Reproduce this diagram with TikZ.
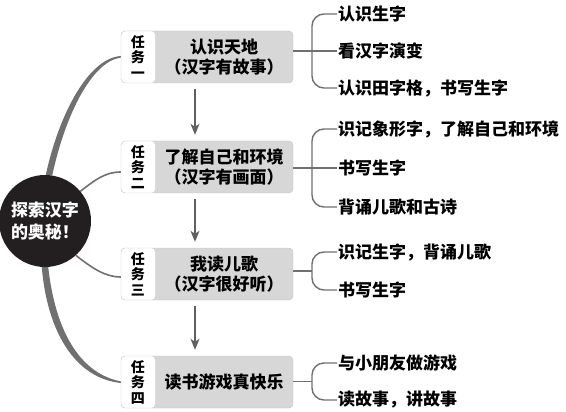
\documentclass[tikz,border=0pt]{standalone}
\usepackage{fontspec}
\setmainfont{Noto Sans CJK SC}
\usetikzlibrary{arrows.meta,backgrounds,calc}
\definecolor{boxgray}{HTML}{D7D7D7}
\definecolor{boxline}{HTML}{C6C6C6}
\definecolor{hubcol}{HTML}{231F20}
\definecolor{linkcol}{HTML}{707070}
\begin{document}
\begin{tikzpicture}[x=1pt,y=-1pt,
  >={Stealth[length=11pt,width=9pt,inset=3pt]},
  every node/.style={inner sep=1pt,font=\bfseries},
  hub/.style={circle,fill=hubcol,text=white,minimum size=92pt,align=center,
    font=\bfseries\fontsize{17}{22}\selectfont},
  taskbox/.style={rectangle,rounded corners=4pt,fill=boxgray,draw=boxline,
    minimum width=172pt,minimum height=52pt,
    path picture={\fill[white](path picture bounding box.north west)
      rectangle([xshift=34pt]path picture bounding box.south west);}},
  tasktag/.style={align=center,font=\bfseries\fontsize{14}{15.5}\selectfont},
  tasktext/.style={align=center,font=\bfseries\fontsize{17}{20}\selectfont},
  leaf/.style={anchor=west,font=\bfseries\fontsize{17}{20}\selectfont},
  flow/.style={->,draw=linkcol!85!black,line width=1.3pt,shorten <=6pt,shorten >=6pt},
  branch/.style={draw=linkcol,line width=1.4pt,rounded corners=12pt},
  link/.style={fill=linkcol},
  thinlink/.style={draw=linkcol,line width=1.6pt}]
  \useasboundingbox (0,0) rectangle (566,412);
  \node[hub] (hub) at (45,221) {探索汉字\\的奥秘！};
  % tasks
  \node[taskbox] (b1) at (207,57) {};
  \node[tasktag] (t1) at ([xshift=17pt]b1.west) {任\\务\\一};
  \node[tasktext] (m1) at ([xshift=17pt]b1.center) {认识天地\\（汉字有故事）};
  \node[taskbox] (b2) at (207,167) {};
  \node[tasktag] (t2) at ([xshift=17pt]b2.west) {任\\务\\二};
  \node[tasktext] (m2) at ([xshift=17pt]b2.center) {了解自己和环境\\（汉字有画面）};
  \node[taskbox] (b3) at (207,274) {};
  \node[tasktag] (t3) at ([xshift=17pt]b3.west) {任\\务\\三};
  \node[tasktext] (m3) at ([xshift=17pt]b3.center) {我读儿歌\\（汉字很好听）};
  \node[taskbox] (b4) at (207,382) {};
  \node[tasktag] (t4) at ([xshift=17pt]b4.west) {任\\务\\四};
  \node[tasktext] (m4) at ([xshift=17pt]b4.center) {读书游戏真快乐};
  \draw[flow] ([xshift=-12pt]b1.south) -- ([xshift=-12pt]b2.north);
  \draw[flow] ([xshift=-12pt]b2.south) -- ([xshift=-12pt]b3.north);
  \draw[flow] ([xshift=-12pt]b3.south) -- ([xshift=-12pt]b4.north);
  % leaves
  \node[leaf] (a1) at (337,14) {认识生字};
  \node[leaf] (a2) at (337,51) {看汉字演变};
  \node[leaf] (a3) at (337,88) {认识田字格，书写生字};
  \node[leaf] (d1) at (337,129) {识记象形字，了解自己和环境};
  \node[leaf] (d2) at (337,168) {书写生字};
  \node[leaf] (d3) at (337,207) {背诵儿歌和古诗};
  \node[leaf] (c1) at (337,252) {识记生字，背诵儿歌};
  \node[leaf] (c2) at (337,290) {书写生字};
  \node[leaf] (e1) at (337,363) {与小朋友做游戏};
  \node[leaf] (e2) at (337,400) {读故事，讲故事};
  \draw[branch] (a1.west) -| ([xshift=-25pt]a3.west) -- (a3.west);
  \draw[branch] (b1.east |- a2.west) -- (a2.west);
  \draw[branch] (d1.west) -| ([xshift=-25pt]d3.west) -- (d3.west);
  \draw[branch] (b2.east |- d2.west) -- (d2.west);
  \coordinate (j3) at ($(c1.west)!.5!(c2.west)$);
  \draw[branch] (c1.west) -| ([xshift=-25pt]c2.west) -- (c2.west);
  \draw[branch] (b3.east |- j3) -- ([xshift=-25pt]j3);
  \coordinate (j4) at ($(e1.west)!.5!(e2.west)$);
  \draw[branch] (e1.west) -| ([xshift=-25pt]e2.west) -- (e2.west);
  \draw[branch] (b4.east |- j4) -- ([xshift=-25pt]j4);
  % links from the hub
  \begin{scope}[on background layer]
    \fill[link] (hub.89) .. controls (60,110) and (90,58) .. ([yshift=1pt]b1.west)
      -- ([yshift=-0.6pt]b1.west) .. controls (93,61) and (66,112) .. (hub.81) -- cycle;
    \draw[thinlink] (hub.40) .. controls (95,180) and (105,172) .. ([yshift=-5pt]b2.west);
    \draw[thinlink] (hub.-48) .. controls (92,268) and (105,277) .. ([yshift=-3pt]b3.west);
    \fill[link] (hub.-94) .. controls (47,330) and (74,378) .. ([yshift=-1pt]b4.west)
      -- ([yshift=0.6pt]b4.west) .. controls (78,373) and (55,328) .. (hub.-86) -- cycle;
  \end{scope}
\end{tikzpicture}
\end{document}
